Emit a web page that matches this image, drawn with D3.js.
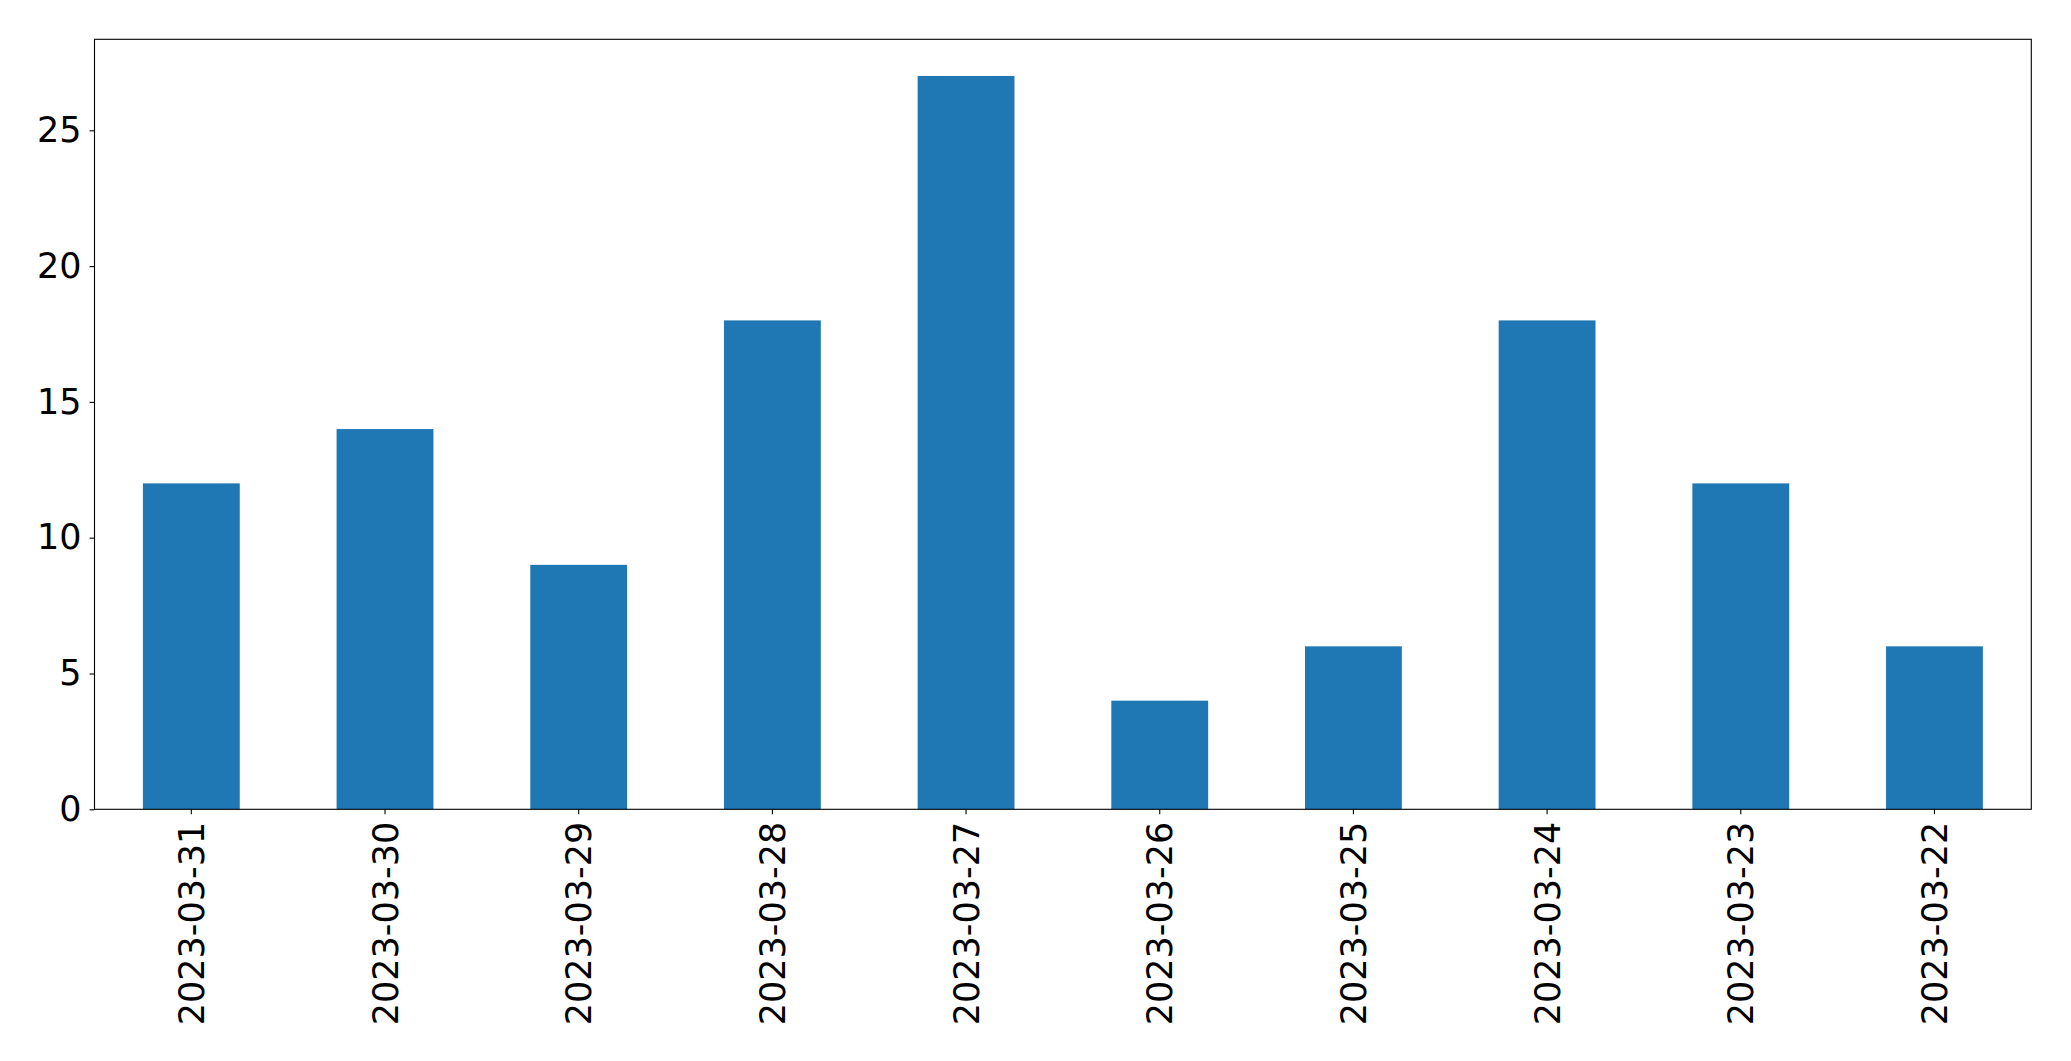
<!DOCTYPE html>
<html>
<head>
<meta charset="utf-8">
<script src="https://cdn.jsdelivr.net/npm/d3@7"></script>
<style>
  html, body { margin: 0; padding: 0; background: #fff; }
  svg { display: block; }
  text { font-family: "DejaVu Sans", sans-serif; fill: #000; }
</style>
</head>
<body>
<svg id="chart" width="2071" height="1061"></svg>
<script>
const categories = ["2023-03-31", "2023-03-30", "2023-03-29", "2023-03-28", "2023-03-27",
                    "2023-03-26", "2023-03-25", "2023-03-24", "2023-03-23", "2023-03-22"];
const values = [12, 14, 9, 18, 27, 4, 6, 18, 12, 6];
const yTicks = [0, 5, 10, 15, 20, 25];

const W = 2071, H = 1061;
const margin = { left: 94.5, right: W - 2031.3, top: 39.3, bottom: H - 809.3 };
const svg = d3.select("#chart");
const iw = W - margin.left - margin.right;
const ih = H - margin.top - margin.bottom;
const g = svg.append("g").attr("transform", `translate(${margin.left},${margin.top})`);

const x = d3.scaleBand().domain(categories).range([0, iw]).paddingInner(0.5).paddingOuter(0.25);
const y = d3.scaleLinear().domain([0, d3.max(values) * 1.05]).range([ih, 0]);

g.selectAll("rect.bar").data(values).enter().append("rect")
  .attr("class", "bar")
  .attr("x", (d, i) => x(categories[i]))
  .attr("width", x.bandwidth())
  .attr("y", d => y(d))
  .attr("height", d => y(0) - y(d))
  .attr("fill", "#1f77b4");

const fs = 35;
const yAxis = g.append("g")
  .call(d3.axisLeft(y).tickValues(yTicks).tickSize(4.9).tickPadding(8))
yAxis.select(".domain").remove();
yAxis.selectAll(".tick line").attr("stroke", "#000").attr("stroke-width", 1.1);
yAxis.selectAll(".tick text").attr("font-size", fs).attr("font-family", "DejaVu Sans").attr("fill", "#000");

const xAxis = g.append("g").attr("transform", `translate(0,${ih})`)
  .call(d3.axisBottom(x).tickSize(4.9).tickPadding(0));
xAxis.select(".domain").remove();
xAxis.selectAll(".tick line").attr("stroke", "#000").attr("stroke-width", 1.1);
xAxis.selectAll(".tick text")
  .attr("font-size", fs).attr("font-family", "DejaVu Sans").attr("fill", "#000")
  .attr("text-anchor", "end")
  .attr("transform", "translate(0,12.5) rotate(-90)")
  .attr("x", 0).attr("y", 0).attr("dy", "0.36em");

g.append("rect").attr("x", 0).attr("y", 0).attr("width", iw).attr("height", ih)
  .attr("fill", "none").attr("stroke", "#000").attr("stroke-width", 1.1);
</script>
</body>
</html>
